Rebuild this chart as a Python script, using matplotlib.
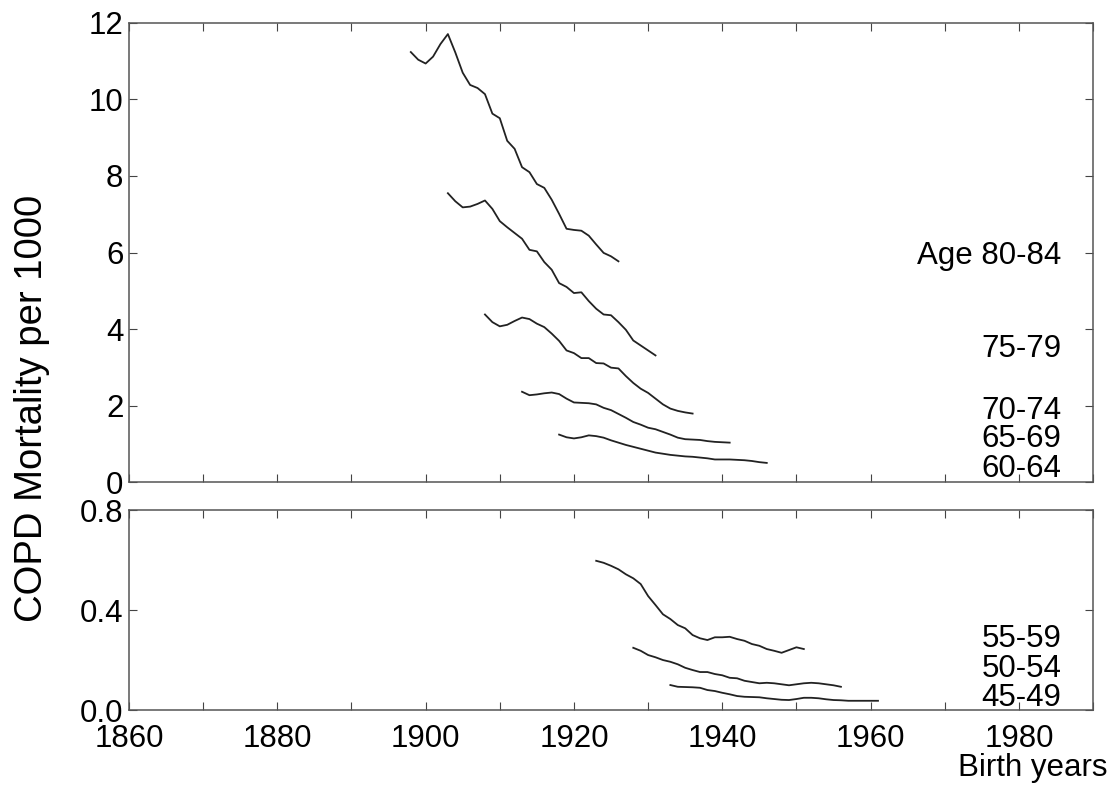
import numpy as np
import matplotlib.pyplot as plt
from matplotlib.ticker import MultipleLocator, FormatStrFormatter

plt.rcParams['font.family'] = ['Liberation Sans', 'DejaVu Sans']

# birth-year cohorts
yr_80 = np.arange(1898, 1927)
v_80 = [11.24, 11.04, 10.94, 11.12, 11.45, 11.71, 11.23, 10.70, 10.38, 10.30,
        10.14, 9.63, 9.51, 8.92, 8.71, 8.23, 8.10, 7.79, 7.69, 7.38,
        7.01, 6.62, 6.59, 6.57, 6.44, 6.21, 5.99, 5.90, 5.77]

yr_75 = np.arange(1903, 1932)
v_75 = [7.55, 7.34, 7.18, 7.20, 7.27, 7.36, 7.14, 6.82, 6.66, 6.51,
        6.36, 6.07, 6.03, 5.75, 5.55, 5.20, 5.10, 4.94, 4.96, 4.73,
        4.53, 4.38, 4.36, 4.18, 3.98, 3.70, 3.57, 3.44, 3.31]

yr_70 = np.arange(1908, 1937)
v_70 = [4.38, 4.18, 4.07, 4.11, 4.21, 4.30, 4.26, 4.14, 4.05, 3.88,
        3.69, 3.44, 3.37, 3.24, 3.24, 3.11, 3.10, 2.99, 2.97, 2.77,
        2.59, 2.44, 2.33, 2.18, 2.03, 1.92, 1.86, 1.82, 1.79]

yr_65 = np.arange(1913, 1942)
v_65 = [2.36, 2.27, 2.29, 2.32, 2.34, 2.30, 2.18, 2.08, 2.07, 2.06,
        2.03, 1.94, 1.88, 1.78, 1.68, 1.57, 1.50, 1.42, 1.38, 1.31,
        1.24, 1.16, 1.12, 1.11, 1.10, 1.07, 1.05, 1.04, 1.03]

yr_60 = np.arange(1918, 1947)
v_60 = [1.24, 1.17, 1.14, 1.17, 1.22, 1.20, 1.16, 1.09, 1.03, 0.97,
        0.92, 0.87, 0.82, 0.77, 0.74, 0.71, 0.69, 0.67, 0.66, 0.64,
        0.62, 0.59, 0.59, 0.59, 0.58, 0.57, 0.55, 0.52, 0.50]

yr_55 = np.arange(1923, 1952)
v_55 = [0.597, 0.589, 0.577, 0.563, 0.543, 0.527, 0.504, 0.456, 0.420, 0.383,
        0.364, 0.340, 0.327, 0.300, 0.287, 0.280, 0.291, 0.291, 0.293, 0.284,
        0.277, 0.264, 0.257, 0.244, 0.237, 0.229, 0.240, 0.251, 0.244]

yr_50 = np.arange(1928, 1957)
v_50 = [0.249, 0.237, 0.220, 0.211, 0.200, 0.193, 0.183, 0.169, 0.160, 0.152,
        0.152, 0.144, 0.139, 0.129, 0.127, 0.117, 0.112, 0.107, 0.109, 0.107,
        0.103, 0.099, 0.103, 0.107, 0.109, 0.107, 0.103, 0.099, 0.093]

yr_45 = np.arange(1933, 1962)
v_45 = [0.100, 0.093, 0.092, 0.091, 0.089, 0.080, 0.076, 0.069, 0.063, 0.056,
        0.053, 0.052, 0.051, 0.047, 0.044, 0.041, 0.040, 0.044, 0.049, 0.049,
        0.047, 0.043, 0.040, 0.039, 0.037, 0.037, 0.037, 0.037, 0.037]

top_labels = ['Age 80-84', '75-79', '70-74', '65-69', '60-64']
top_label_y = [5.69, 3.27, 1.66, 0.92, 0.14]
bot_labels = ['55-59', '50-54', '45-49']
bot_label_y = [0.252, 0.132, 0.016]

fig = plt.figure(figsize=(11.14, 7.87), dpi=100)
ax1 = fig.add_axes([0.1158, 0.3875, 0.8654, 0.5833])
ax2 = fig.add_axes([0.1158, 0.0978, 0.8654, 0.2541])

lc = '#222222'
for x, y in [(yr_80, v_80), (yr_75, v_75), (yr_70, v_70), (yr_65, v_65), (yr_60, v_60)]:
    ax1.plot(x, y, color=lc, lw=1.3)
for x, y in [(yr_55, v_55), (yr_50, v_50), (yr_45, v_45)]:
    ax2.plot(x, y, color=lc, lw=1.3)

lab_x = 1985.7
for t, y in zip(top_labels, top_label_y):
    ax1.text(lab_x, y, t, ha='right', va='baseline', fontsize=22.5)
for t, y in zip(bot_labels, bot_label_y):
    ax2.text(lab_x, y, t, ha='right', va='baseline', fontsize=22.5)

ax1.set_ylim(0, 12)
ax1.yaxis.set_major_locator(MultipleLocator(2))
ax2.set_ylim(0, 0.8)
ax2.yaxis.set_major_locator(MultipleLocator(0.4))
ax2.yaxis.set_major_formatter(FormatStrFormatter('%.1f'))

for ax in (ax1, ax2):
    ax.set_xlim(1860, 1990)
    ax.xaxis.set_major_locator(MultipleLocator(20))
    ax.xaxis.set_minor_locator(MultipleLocator(10))
    ax.tick_params(which='both', direction='in', top=True, right=True,
                   length=5.5, width=0.8, color='#444444', labelsize=22.5)
    ax.tick_params(axis='y', pad=4)
    ax.tick_params(axis='x', pad=10)
    for s in ax.spines.values():
        s.set_color('#555555')
        s.set_linewidth(1.1)

ax1.tick_params(axis='x', labelbottom=False)

fig.text(32 / 1114, 1 - 408 / 787, 'COPD Mortality per 1000', rotation=90,
         ha='center', va='center', fontsize=27.5)
fig.text(1107 / 1114, 1 - 768 / 787, 'Birth years', ha='right', va='center',
         fontsize=22.5)

fig.savefig('out.png', dpi=100)
